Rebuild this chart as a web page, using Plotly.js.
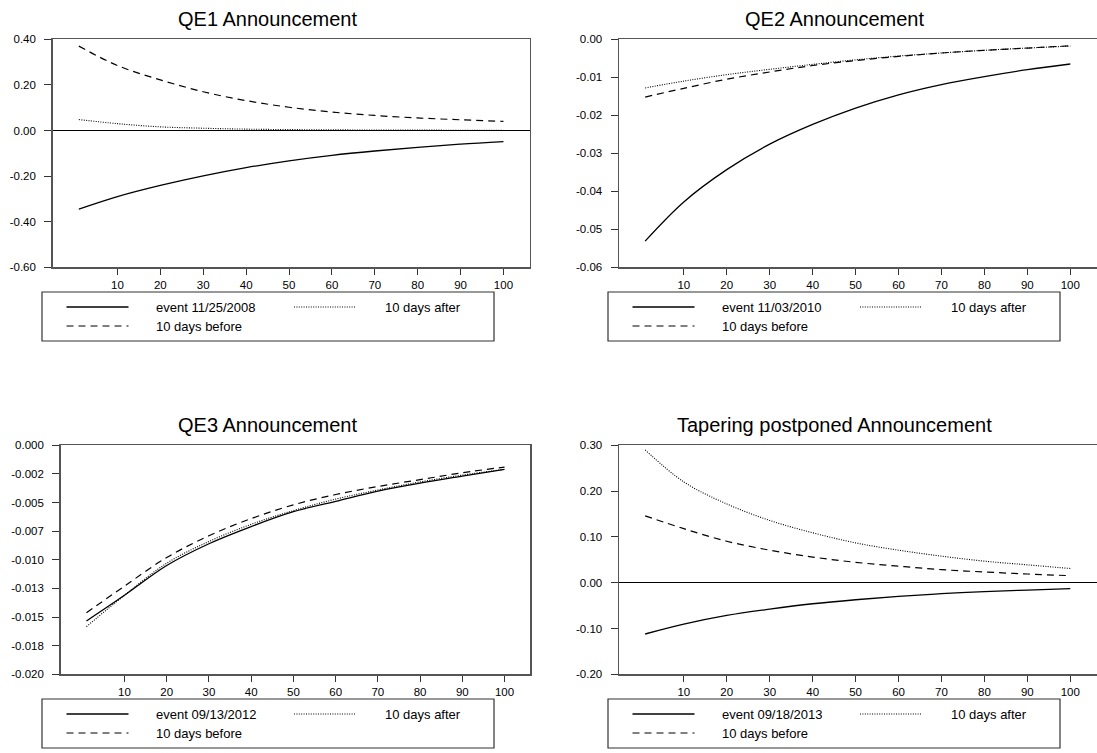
<!DOCTYPE html>
<html>
<head>
<meta charset="utf-8">
<script src="https://cdn.plot.ly/plotly-3.0.1.min.js"></script>
<style>
  html, body { margin: 0; padding: 0; background: #ffffff; }
  #chart { width: 1097px; height: 753px; }
</style>
</head>
<body>
<div id="chart"></div>
<script>
// Horizon (days) at which each response is recorded
const horizon = [1, 10, 20, 30, 40, 50, 60, 70, 80, 90, 100];

// QE1 announcement, 11/25/2008
const qe1Event  = [-0.345, -0.290, -0.241, -0.199, -0.163, -0.133, -0.109, -0.090, -0.074, -0.060, -0.049];
const qe1Before = [0.370, 0.285, 0.222, 0.170, 0.131, 0.102, 0.081, 0.066, 0.055, 0.047, 0.040];
const qe1After  = [0.048, 0.030, 0.016, 0.010, 0.006, 0.004, 0.003, 0.002, 0.002, 0.001, 0.001];

// QE2 announcement, 11/03/2010
const qe2Event  = [-0.0531, -0.0428, -0.0343, -0.0276, -0.0224, -0.0181, -0.0146, -0.0119, -0.0098, -0.0080, -0.0065];
const qe2Before = [-0.0152, -0.0129, -0.0105, -0.0086, -0.0069, -0.0056, -0.0045, -0.0036, -0.0029, -0.0023, -0.0017];
const qe2After  = [-0.0128, -0.0110, -0.0093, -0.0079, -0.0066, -0.0054, -0.0044, -0.0036, -0.0029, -0.0023, -0.0018];

// QE3 announcement, 09/13/2012
const qe3Event  = [-0.01534, -0.0131, -0.0105, -0.0086, -0.0071, -0.0058, -0.0049, -0.0040, -0.0033, -0.0027, -0.0021];
const qe3Before = [-0.01462, -0.0123, -0.0098, -0.0079, -0.0064, -0.0052, -0.0043, -0.0036, -0.0030, -0.0024, -0.0019];
const qe3After  = [-0.01584, -0.0131, -0.0103, -0.0084, -0.0069, -0.0057, -0.0047, -0.0039, -0.0032, -0.0026, -0.0021];

// Tapering postponed announcement, 09/18/2013
const tapEvent  = [-0.112, -0.0905, -0.0715, -0.0577, -0.046, -0.0372, -0.030, -0.024, -0.0197, -0.016, -0.013];
const tapBefore = [0.146, 0.118, 0.0905, 0.071, 0.056, 0.0445, 0.036, 0.0285, 0.0234, 0.019, 0.0153];
const tapAfter  = [0.290, 0.220, 0.172, 0.136, 0.109, 0.087, 0.071, 0.058, 0.047, 0.039, 0.031];

// Titles and legend text
const panelTitles = ['QE1 Announcement', 'QE2 Announcement', 'QE3 Announcement', 'Tapering postponed Announcement'];
const eventLabels = ['event 11/25/2008', 'event 11/03/2010', 'event 09/13/2012', 'event 09/18/2013'];
const beforeLabel = '10 days before';
const afterLabel  = '10 days after';

// Tick values and labels
const xTickVals  = [10, 20, 30, 40, 50, 60, 70, 80, 90, 100];
const xTickText  = ['10', '20', '30', '40', '50', '60', '70', '80', '90', '100'];
const qe1YVals   = [-0.6, -0.4, -0.2, 0, 0.2, 0.4];
const qe1YText   = ['-0.60', '-0.40', '-0.20', '0.00', '0.20', '0.40'];
const qe2YVals   = [-0.06, -0.05, -0.04, -0.03, -0.02, -0.01, 0];
const qe2YText   = ['-0.06', '-0.05', '-0.04', '-0.03', '-0.02', '-0.01', '0.00'];
const qe3YVals   = [-0.02, -0.0175, -0.015, -0.0125, -0.01, -0.0075, -0.005, -0.0025, 0];
const qe3YText   = ['-0.020', '-0.018', '-0.015', '-0.013', '-0.010', '-0.007', '-0.005', '-0.002', '0.000'];
const tapYVals   = [-0.2, -0.1, 0, 0.1, 0.2, 0.3];
const tapYText   = ['-0.20', '-0.10', '0.00', '0.10', '0.20', '0.30'];

// ---- layout helpers (pixel geometry of the 1097 x 753 page) ----
const W = 1097, H = 753;
const fx = p => p / W;
const fy = p => 1 - p / H;

const FONT = '"Liberation Sans", Arial, Helvetica, sans-serif';
const INK = '#000000';
const FRAME = '#555555';

const STYLE_EVENT  = { color: INK, width: 1.3, dash: 'solid' };
const STYLE_BEFORE = { color: INK, width: 1.2, dash: '7px,5px' };
const STYLE_AFTER  = { color: INK, width: 1.1, dash: '1px,1.4px' };

const panels = [
  { key: '',  left: 52.7, right: 529.6, top: 39.3,  bottom: 267.3, xr: [-5.1, 106.1],
    series: [qe1Event, qe1Before, qe1After], yr: [-0.6, 0.4], yv: qe1YVals, yt: qe1YText, zero: true,
    titleX: 267, titleY: 19, legLeft: 42, legTop: 292 },
  { key: '2', left: 619,  right: 1097,  top: 39.3,  bottom: 267.3, xr: [-5.09, 106.22],
    series: [qe2Event, qe2Before, qe2After], yr: [-0.06, 0], yv: qe2YVals, yt: qe2YText, zero: false,
    titleX: 834, titleY: 19, legLeft: 608, legTop: 292 },
  { key: '3', left: 60.7, right: 530.3, top: 445.3, bottom: 674.3, xr: [-5.1, 106.1],
    series: [qe3Event, qe3Before, qe3After], yr: [-0.02, 0], yv: qe3YVals, yt: qe3YText, zero: false,
    titleX: 267, titleY: 425, legLeft: 42, legTop: 699 },
  { key: '4', left: 619,  right: 1097,  top: 445.3, bottom: 674.3, xr: [-5.09, 106.22],
    series: [tapEvent, tapBefore, tapAfter], yr: [-0.2, 0.3], yv: tapYVals, yt: tapYText, zero: true,
    titleX: 834, titleY: 425, legLeft: 608, legTop: 699 }
];

const traces = [];
const layout = {
  width: W, height: H,
  margin: { l: 0, r: 0, t: 0, b: 0, pad: 0 },
  paper_bgcolor: '#ffffff',
  plot_bgcolor: '#ffffff',
  showlegend: false,
  font: { family: FONT, color: INK, size: 11.5 },
  annotations: [],
  shapes: []
};

const styles = [STYLE_EVENT, STYLE_BEFORE, STYLE_AFTER];

panels.forEach((p, i) => {
  const xa = 'x' + p.key, ya = 'y' + p.key;
  const names = [eventLabels[i], beforeLabel, afterLabel];

  p.series.forEach((vals, k) => {
    traces.push({
      type: 'scatter', mode: 'lines',
      x: horizon, y: vals,
      xaxis: xa, yaxis: ya,
      name: names[k],
      line: Object.assign({ shape: 'spline', smoothing: 1 }, styles[k]),
      hoverinfo: 'skip'
    });
  });

  layout['xaxis' + p.key] = {
    domain: [fx(p.left), fx(p.right)],
    anchor: ya,
    range: p.xr,
    tickmode: 'array', tickvals: xTickVals, ticktext: xTickText,
    ticks: 'outside', ticklen: 6, tickwidth: 1, tickcolor: '#333',
    showline: true, linecolor: FRAME, linewidth: 1.5, mirror: true,
    showgrid: false, zeroline: false,
    tickfont: { family: FONT, size: 11.5, color: INK },
    fixedrange: true
  };
  layout['yaxis' + p.key] = {
    domain: [fy(p.bottom), fy(p.top)],
    anchor: xa,
    range: p.yr,
    tickmode: 'array', tickvals: p.yv, ticktext: p.yt,
    ticks: 'outside', ticklen: 7, tickwidth: 1, tickcolor: '#333',
    ticklabelstandoff: 6,
    showline: true, linecolor: FRAME, linewidth: 1.5, mirror: true,
    showgrid: false,
    zeroline: p.zero, zerolinecolor: INK, zerolinewidth: 1.2,
    tickfont: { family: FONT, size: 11.5, color: INK },
    fixedrange: true
  };

  // Panel title
  layout.annotations.push({
    xref: 'paper', yref: 'paper', x: fx(p.titleX), y: fy(p.titleY),
    xanchor: 'center', yanchor: 'middle', showarrow: false,
    text: panelTitles[i], font: { family: FONT, size: 20, color: INK }
  });

  // Legend box below each panel
  const L = p.legLeft, T = p.legTop;
  const row1 = T + 15, row2 = T + 34;
  layout.shapes.push({
    type: 'rect', xref: 'paper', yref: 'paper',
    x0: fx(L), x1: fx(L + 452), y0: fy(T), y1: fy(T + 49),
    line: { color: '#333333', width: 1.2 }, fillcolor: 'rgba(0,0,0,0)'
  });
  const legendItems = [
    { style: STYLE_EVENT,  x: L + 24.5,  y: row1, text: eventLabels[i], tx: L + 112 },
    { style: STYLE_AFTER,  x: L + 252,   y: row1, text: afterLabel,     tx: L + 341 },
    { style: STYLE_BEFORE, x: L + 24.5,  y: row2, text: beforeLabel,    tx: L + 112 }
  ];
  legendItems.forEach(it => {
    layout.shapes.push({
      type: 'line', xref: 'paper', yref: 'paper',
      x0: fx(it.x), x1: fx(it.x + 62), y0: fy(it.y), y1: fy(it.y),
      line: { color: it.style.color, width: it.style.width, dash: it.style.dash }
    });
    layout.annotations.push({
      xref: 'paper', yref: 'paper', x: fx(it.tx), y: fy(it.y),
      xanchor: 'left', yanchor: 'middle', showarrow: false,
      text: it.text, font: { family: FONT, size: 13, color: INK }
    });
  });
});

Plotly.newPlot('chart', traces, layout, { staticPlot: true, displayModeBar: false });
</script>
</body>
</html>
